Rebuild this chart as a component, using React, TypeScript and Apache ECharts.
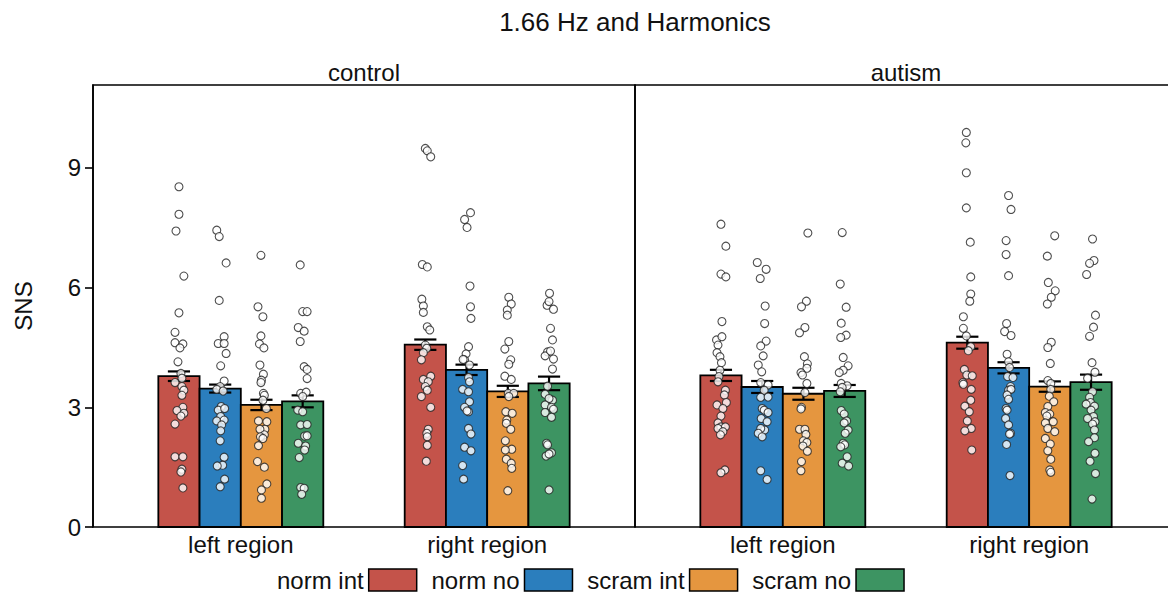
import React, { useEffect, useRef } from "react";
import * as echarts from "echarts";

const TITLE = "1.66 Hz and Harmonics";
const GROUPS = ["control", "autism"];
const REGIONS = ["left region", "right region"];
const CONDITIONS = ["norm int", "norm no", "scram int", "scram no"];
const COLORS = ["#C4534A", "#2B7EBD", "#E5963F", "#3D9462"];
const Y_TICKS = [0, 3, 6, 9];

// means / standard errors: [region][condition]
const controlMeans = [
  [3.78, 3.47, 3.06, 3.15],
  [4.57, 3.94, 3.4, 3.6],
];
const controlSE = [
  [0.12, 0.1, 0.13, 0.15],
  [0.13, 0.13, 0.14, 0.17],
];
const autismMeans = [
  [3.8, 3.51, 3.34, 3.41],
  [4.62, 3.99, 3.52, 3.63],
];
const autismSE = [
  [0.14, 0.15, 0.15, 0.15],
  [0.15, 0.14, 0.13, 0.19],
];

// individual points: [jitter (category units), value]
const ctrlLeftNormInt = [[0,8.53],[0,7.84],[-0.012,7.42],[0.02,6.29],[0,5.37],[-0.016,4.88],[-0.016,4.62],[0.016,4.59],[0.004,4.49],[-0.004,4.14],[0.008,3.85],[0.012,3.73],[-0.016,3.62],[0.012,3.52],[0.02,3.43],[0.012,3.3],[0.016,3.0],[-0.008,2.92],[0.02,2.85],[0.008,2.78],[-0.016,2.58],[-0.016,1.76],[0.016,1.76],[0.012,1.45],[0.008,1.38],[0.016,0.98]];
const ctrlLeftNormNo = [[-0.014,7.44],[-0.004,7.28],[0.024,6.62],[-0.004,5.68],[0.016,4.77],[-0.008,4.6],[0.016,4.6],[0.024,4.35],[0.002,4.04],[0.016,3.66],[0,3.52],[-0.014,3.45],[0.012,3.41],[0.004,3.02],[-0.008,2.93],[0.018,2.97],[0.002,2.77],[-0.014,2.66],[0.016,2.68],[0.006,2.56],[0.002,2.41],[0,2.16],[0.016,1.75],[0.01,1.55],[-0.012,1.53],[0.018,1.2],[0,1.01]];
const ctrlLeftScramInt = [[-0.002,6.81],[-0.014,5.52],[0.006,5.27],[-0.002,4.79],[-0.008,4.59],[0.01,4.49],[-0.006,4.06],[0.008,3.83],[0,3.68],[-0.002,3.62],[0.008,3.35],[0.012,3.3],[0.006,3.18],[0.02,2.97],[-0.012,2.66],[0.022,2.64],[0.014,2.45],[-0.006,2.45],[0.012,2.31],[-0.004,2.26],[0.006,2.22],[-0.012,2.04],[-0.016,1.64],[0.012,1.5],[0.022,1.08],[0,0.93],[0,0.72]];
const ctrlLeftScramNo = [[-0.01,6.57],[0,5.4],[0.018,5.4],[-0.018,5.0],[0.006,4.91],[-0.01,4.65],[0.006,4.02],[0.018,3.95],[0.018,3.72],[-0.008,3.35],[0.014,3.38],[0,3.27],[-0.02,2.93],[0,2.89],[-0.008,2.56],[0.018,2.57],[0.008,2.28],[0.018,2.29],[-0.018,2.1],[0.012,2.03],[0.008,1.93],[-0.014,1.74],[-0.008,0.99],[0.006,0.97],[-0.004,0.82]];

const ctrlRightNormInt = [[0,9.49],[0.008,9.43],[0.022,9.28],[-0.012,6.58],[0.008,6.52],[-0.014,5.71],[-0.008,5.54],[-0.008,5.38],[0.008,5.02],[0.018,4.94],[0,4.56],[0.006,4.48],[-0.008,4.37],[-0.016,4.19],[0.022,3.78],[-0.008,3.7],[0.012,3.64],[0,3.52],[0.008,3.43],[-0.016,3.27],[0.022,3.0],[0.012,2.45],[0.006,2.35],[0.008,2.26],[0.008,2.05],[0.004,1.65]];
const ctrlRightNormNo = [[0.016,7.88],[-0.008,7.71],[0.002,7.51],[0.014,6.04],[0.016,5.52],[0.018,5.23],[0.008,4.52],[-0.002,4.34],[-0.008,4.19],[-0.014,4.2],[0.012,4.06],[0.008,3.75],[0.012,3.64],[-0.016,3.45],[0.008,3.39],[0.012,3.14],[-0.008,3.0],[0.008,2.89],[0.002,2.91],[0.008,2.47],[0.018,2.33],[-0.008,2.0],[0.018,1.91],[-0.016,1.54],[-0.012,1.2]];
const ctrlRightScramInt = [[0.004,5.76],[0.014,5.59],[-0.002,5.44],[-0.002,5.31],[0.004,4.65],[-0.012,4.46],[0.012,4.19],[0.004,4.08],[-0.012,3.78],[0.014,3.7],[0.002,3.35],[0.024,3.35],[0.004,3.27],[-0.008,2.89],[0.018,2.85],[-0.004,2.68],[-0.006,2.6],[0.012,2.45],[-0.01,2.16],[0.016,1.95],[-0.01,1.93],[-0.006,1.7],[0.014,1.6],[0.016,1.47],[0,0.91]];
const ctrlRightScramNo = [[0.002,5.86],[-0.008,5.56],[0.018,5.46],[0,5.65],[0.006,4.98],[0.014,4.69],[-0.006,4.39],[-0.016,4.29],[0.006,4.41],[0.018,4.21],[0.014,3.96],[-0.006,3.53],[-0.016,3.33],[0.014,3.18],[0,3.22],[-0.016,3.06],[0.01,3.0],[0.018,2.95],[-0.016,2.87],[0.01,2.75],[-0.01,2.1],[-0.006,2.06],[0.01,1.86],[-0.012,1.78],[0,1.83],[0,0.93]];

const autLeftNormInt = [[0,7.59],[0.02,7.04],[0,6.34],[0.02,6.27],[0.004,5.15],[-0.018,4.69],[0.004,4.77],[-0.012,4.56],[-0.016,4.37],[-0.004,4.27],[0.002,4.12],[-0.004,3.93],[-0.008,3.77],[-0.012,3.64],[0.018,3.43],[0.014,3.31],[0.022,3.12],[-0.016,3.06],[0.008,2.97],[0,2.78],[-0.012,2.61],[0,2.51],[0.018,2.51],[-0.012,2.47],[0.008,2.39],[-0.002,2.31],[0.016,1.43],[0,1.36]];
const autLeftNormNo = [[-0.02,6.63],[0.016,6.46],[-0.008,6.23],[0.012,5.54],[0.01,5.1],[0.016,4.66],[-0.006,4.54],[0.004,4.29],[-0.016,4.06],[-0.002,3.89],[-0.006,3.62],[0.024,3.56],[0.008,3.43],[-0.006,3.25],[0.024,3.26],[0,2.97],[0.008,2.93],[0.024,2.87],[-0.004,2.72],[0.02,2.64],[0.01,2.43],[-0.006,2.47],[-0.016,2.35],[0,2.26],[-0.006,1.41],[0.02,1.19]];
const autLeftScramInt = [[0.018,7.37],[0.012,5.66],[-0.008,5.52],[0.006,5.0],[-0.016,4.87],[0.004,4.27],[0.016,4.09],[0.014,3.98],[-0.01,3.87],[-0.004,3.81],[0.014,3.6],[0.006,3.37],[-0.008,3.0],[-0.01,2.96],[-0.016,2.45],[0.006,2.45],[0.01,2.32],[0,2.16],[0.014,2.12],[-0.002,2.03],[0.016,1.9],[-0.008,1.64],[-0.01,1.41]];
const autLeftScramNo = [[-0.01,7.38],[-0.018,6.09],[0.006,5.51],[-0.014,5.11],[0.006,4.81],[-0.016,4.75],[-0.006,4.25],[0.014,4.04],[-0.006,3.93],[-0.022,3.87],[-0.014,3.6],[0.01,3.54],[-0.01,3.5],[-0.018,3.39],[-0.014,2.92],[-0.002,2.83],[0.008,2.66],[-0.002,2.61],[0.014,2.43],[0.002,2.35],[-0.006,2.1],[0,2.06],[-0.016,2.01],[0.01,1.76],[-0.01,1.6],[0.016,1.53]];

const autRightNormInt = [[-0.004,9.89],[-0.006,9.63],[-0.004,8.88],[-0.004,8.0],[0.012,7.14],[0.014,6.27],[0.014,5.84],[0.01,5.66],[-0.016,5.27],[-0.016,4.98],[-0.004,4.79],[0.014,4.52],[0.004,4.42],[-0.012,3.95],[-0.002,3.81],[0.02,3.79],[-0.018,3.62],[0.016,3.45],[-0.016,3.58],[0.014,3.18],[-0.01,3.03],[0.008,2.89],[0,2.66],[0.016,2.47],[-0.01,2.41],[0.018,1.93]];
const autRightNormNo = [[0,8.31],[0.01,7.96],[-0.01,7.18],[-0.01,6.83],[0,6.3],[-0.008,5.1],[-0.016,4.9],[0.01,4.8],[-0.006,4.33],[0,4.14],[0.004,4.0],[-0.004,3.77],[0.018,3.75],[0.008,3.52],[0,3.43],[0.01,3.45],[-0.006,3.31],[0,3.2],[-0.01,2.97],[-0.006,2.93],[-0.012,2.72],[0,2.56],[0.008,2.35],[0.004,2.33],[-0.008,2.07],[0.006,1.29]];
const autRightScramInt = [[0.02,7.3],[-0.01,6.79],[-0.006,6.13],[0.022,5.92],[0.006,5.76],[-0.01,5.59],[0.006,4.63],[-0.008,4.5],[0.002,4.1],[-0.008,3.67],[0.004,3.6],[0.004,3.45],[-0.002,3.28],[0.016,3.14],[-0.008,3.02],[-0.018,2.87],[0,2.83],[-0.012,2.78],[0.014,2.64],[-0.018,2.61],[-0.008,2.47],[0.02,2.39],[-0.018,2.22],[0.002,2.08],[-0.008,1.91],[0.004,1.7],[0,1.43],[0.004,1.37]];
const autRightScramNo = [[0.006,7.22],[0.012,6.68],[-0.006,6.61],[-0.018,6.33],[0.018,5.31],[0.01,5.01],[-0.006,4.78],[0.004,4.12],[0.016,3.88],[-0.014,3.73],[0.006,3.39],[-0.006,3.25],[-0.002,3.12],[-0.02,3.08],[0.014,3.03],[0,2.93],[0.01,2.77],[-0.014,2.72],[0.016,2.64],[0.006,2.58],[0.014,2.43],[0.014,2.24],[-0.01,2.14],[0.016,1.85],[-0.004,1.65],[0.018,1.34],[0.004,0.7]];

const MEANS = [controlMeans, autismMeans];
const SES = [controlSE, autismSE];
const POINTS = [
  [
    [ctrlLeftNormInt, ctrlLeftNormNo, ctrlLeftScramInt, ctrlLeftScramNo],
    [ctrlRightNormInt, ctrlRightNormNo, ctrlRightScramInt, ctrlRightScramNo],
  ],
  [
    [autLeftNormInt, autLeftNormNo, autLeftScramInt, autLeftScramNo],
    [autRightNormInt, autRightNormNo, autRightScramInt, autRightScramNo],
  ],
];

const FONT = "'Liberation Sans', Arial, Helvetica, sans-serif";
const TEXT = "#111";
const BAR_W = 0.1674;
const ERR_HALF = 0.045;
const Y_MAX = 11.08;

function buildOption() {
  const grids = [0, 1].map((p) => ({
    left: p === 0 ? 93 : 635,
    top: 85,
    width: 542,
    height: 442,
    show: true,
    borderColor: "#000",
    borderWidth: 1.6,
    backgroundColor: "transparent",
    containLabel: false,
    outerBoundsMode: "none",
  }));

  const xAxes = [0, 1].map((p) => ({
    gridIndex: p,
    type: "value",
    min: 0.4,
    max: 2.6,
    axisLine: { show: false },
    axisTick: { show: false },
    splitLine: { show: false },
    axisLabel: {
      customValues: [1, 2],
      formatter: (v: number) => REGIONS[Math.round(v) - 1] ?? "",
      fontSize: 24,
      fontFamily: FONT,
      color: TEXT,
      margin: 5,
    },
  }));

  const yAxes = [0, 1].map((p) => ({
    gridIndex: p,
    type: "value",
    min: 0,
    max: Y_MAX,
    splitLine: { show: false },
    axisLine: { show: p === 0, lineStyle: { color: "#000", width: 1.6 } },
    axisTick: {
      show: p === 0,
      length: 8,
      customValues: Y_TICKS,
      lineStyle: { color: "#000", width: 1.6 },
    },
    axisLabel: {
      show: p === 0,
      customValues: Y_TICKS,
      fontSize: 24,
      fontFamily: FONT,
      color: TEXT,
      margin: 12,
    },
    name: p === 0 ? "SNS" : "",
    nameLocation: "middle",
    nameGap: 58,
    nameRotate: 90,
    nameTextStyle: { fontSize: 24, fontFamily: FONT, color: TEXT },
  }));

  const series: any[] = [];
  for (let p = 0; p < 2; p++) {
    for (let c = 0; c < 4; c++) {
      const data = REGIONS.map((_, r) => [r + 1, MEANS[p][r][c], SES[p][r][c]]);
      series.push({
        type: "custom",
        name: CONDITIONS[c],
        xAxisIndex: p,
        yAxisIndex: p,
        z: 2,
        silent: true,
        itemStyle: { color: COLORS[c] },
        encode: { x: 0, y: 1 },
        data,
        renderItem: (_params: any, api: any) => {
          const region = api.value(0);
          const mean = api.value(1);
          const se = api.value(2);
          const xc = region + (c - 1.5) * BAR_W;
          const tl = api.coord([xc - BAR_W / 2, mean]);
          const br = api.coord([xc + BAR_W / 2, 0]);
          const top = api.coord([xc, mean + se]);
          const bot = api.coord([xc, mean - se]);
          const el = api.coord([xc - ERR_HALF, 0])[0];
          const er = api.coord([xc + ERR_HALF, 0])[0];
          const ls = { stroke: "#000", lineWidth: 2.2 };
          return {
            type: "group",
            children: [
              {
                type: "rect",
                shape: { x: tl[0], y: tl[1], width: br[0] - tl[0], height: br[1] - tl[1] },
                style: { fill: COLORS[c], stroke: "#000", lineWidth: 1.8 },
              },
              { type: "line", shape: { x1: top[0], y1: top[1], x2: bot[0], y2: bot[1] }, style: ls },
              { type: "line", shape: { x1: el, y1: top[1], x2: er, y2: top[1] }, style: ls },
              { type: "line", shape: { x1: el, y1: bot[1], x2: er, y2: bot[1] }, style: ls },
            ],
          };
        },
      });
    }
  }
  for (let p = 0; p < 2; p++) {
    for (let r = 0; r < 2; r++) {
      for (let c = 0; c < 4; c++) {
        const base = r + 1 + (c - 1.5) * BAR_W;
        series.push({
          type: "scatter",
          name: "points",
          xAxisIndex: p,
          yAxisIndex: p,
          z: 3,
          silent: true,
          symbol: "circle",
          symbolSize: 8,
          itemStyle: { color: "#fff", borderColor: "#222", borderWidth: 1.1 },
          data: POINTS[p][r][c].map(([j, v]) => [base + j, v]),
        });
      }
    }
  }

  return {
    animation: false,
    grid: grids,
    xAxis: xAxes,
    yAxis: yAxes,
    legend: {
      left: 277,
      top: 568,
      padding: 0,
      align: "right",
      icon: "rect",
      itemWidth: 48,
      itemHeight: 22,
      itemGap: 14,
      selectedMode: false,
      textStyle: { fontSize: 24, fontFamily: FONT, color: TEXT },
      data: CONDITIONS.map((n, i) => ({
        name: n,
        itemStyle: { color: COLORS[i], borderColor: "#000", borderWidth: 1.5 },
      })),
    },
    graphic: [
      {
        type: "text",
        x: 635,
        y: 22,
        style: {
          text: TITLE,
          fontSize: 26,
          fontFamily: FONT,
          fill: TEXT,
          textAlign: "center",
          textVerticalAlign: "middle",
          align: "center",
          verticalAlign: "middle",
        },
      },
      ...GROUPS.map((g, i) => ({
        type: "text",
        x: i === 0 ? 364 : 906,
        y: 72,
        style: {
          text: g,
          fontSize: 24,
          fontFamily: FONT,
          fill: TEXT,
          textAlign: "center",
          textVerticalAlign: "middle",
          align: "center",
          verticalAlign: "middle",
        },
      })),
    ],
    series,
  };
}

export default function App() {
  const ref = useRef<HTMLDivElement>(null);
  useEffect(() => {
    if (!ref.current) return;
    const chart = echarts.init(ref.current, undefined, { renderer: "svg" });
    chart.setOption(buildOption() as any);
    return () => chart.dispose();
  }, []);
  return (
    <div
      ref={ref}
      style={{ position: "absolute", left: 0, top: 0, width: 1168, height: 593, background: "#fff" }}
    />
  );
}
